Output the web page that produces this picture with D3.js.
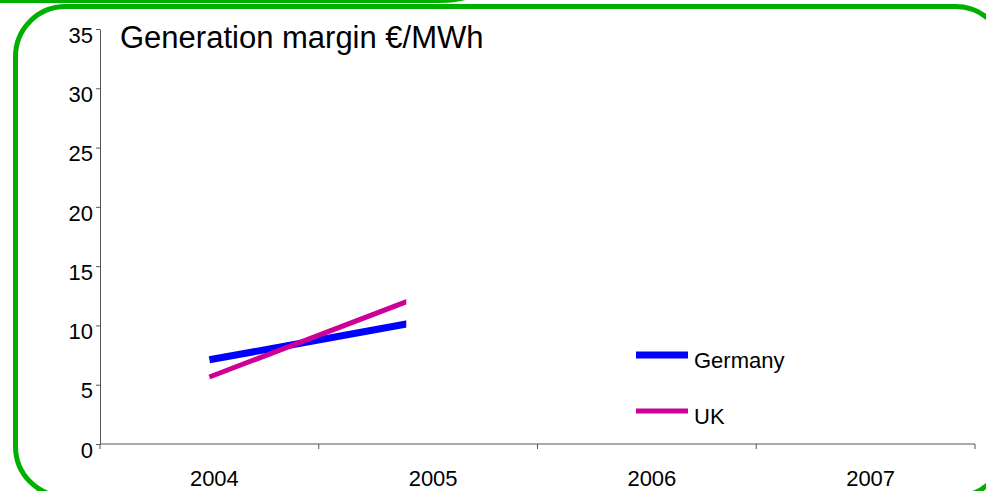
<!DOCTYPE html>
<html>
<head>
<meta charset="utf-8">
<script src="https://cdn.jsdelivr.net/npm/d3@7"></script>
<style>
  body { margin: 0; background: #fff; }
  svg { display: block; font-family: "Liberation Sans", Arial, sans-serif; }
</style>
</head>
<body>
<div id="chart"></div>
<script>
"use strict";

// Chart data
const years = ["2004", "2005", "2006", "2007"];
const germany = [7.1, 10.45];
const uk = [5.65, 12.7];
const yTicks = [0, 5, 10, 15, 20, 25, 30, 35];
const seriesNames = ["Germany", "UK"];
const seriesColors = ["#0000ff", "#cc0099"];

const width = 986, height = 491;
const margin = { top: 29, right: 11, bottom: 47, left: 100 };
const fontFamily = "Liberation Sans, Arial, sans-serif";

const svg = d3.select("#chart").append("svg")
    .attr("width", width)
    .attr("height", height);

// Green frames from the slide behind the chart
svg.append("path")
    .attr("d", "M -10 1 L 440 1 Q 470 1 485 -12")
    .attr("fill", "none")
    .attr("stroke", "#00b000")
    .attr("stroke-width", 4);

svg.append("rect")
    .attr("x", 15.5)
    .attr("y", 6.5)
    .attr("width", 990)
    .attr("height", 490)
    .attr("rx", 50)
    .attr("ry", 50)
    .attr("fill", "none")
    .attr("stroke", "#00b000")
    .attr("stroke-width", 5);

const xScale = d3.scaleBand()
    .domain(years)
    .range([margin.left, width - margin.right]);

const yScale = d3.scaleLinear()
    .domain([0, 35])
    .range([height - margin.bottom, margin.top]);

// Y axis
svg.append("g")
    .attr("transform", `translate(${margin.left},0)`)
    .call(d3.axisLeft(yScale).tickValues(yTicks).tickSize(4).tickSizeOuter(0))
    .call(g => g.select(".domain").attr("stroke", "#555"))
    .call(g => g.selectAll(".tick line").attr("stroke", "#555"))
    .call(g => g.selectAll(".tick text")
        .attr("font-size", 22)
        .attr("font-family", fontFamily)
        .attr("fill", "#000")
        .attr("x", -7)
        .attr("dy", "0.6em"));

// X axis: ticks between the categories
const xAxisY = yScale(0);
const xAxis = svg.append("g")
    .attr("transform", `translate(0,${xAxisY})`);

xAxis.append("line")
    .attr("x1", margin.left)
    .attr("x2", width - margin.right)
    .attr("stroke", "#555");

const boundaries = years.map(d => xScale(d)).concat([xScale(years[years.length - 1]) + xScale.bandwidth()]);
xAxis.selectAll(".xtick")
    .data(boundaries)
    .join("line")
    .attr("class", "xtick")
    .attr("x1", d => d)
    .attr("x2", d => d)
    .attr("y1", 0)
    .attr("y2", 5)
    .attr("stroke", "#555");

xAxis.selectAll(".xlabel")
    .data(years)
    .join("text")
    .attr("class", "xlabel")
    .attr("x", d => xScale(d) + xScale.bandwidth() / 2 + 5)
    .attr("y", 42)
    .attr("text-anchor", "middle")
    .attr("font-size", 22)
    .attr("fill", "#000")
    .text(d => d);

// Lines stop a little short of the 2005 point, as in the original
svg.append("clipPath")
    .attr("id", "plotClip")
    .append("rect")
    .attr("x", margin.left)
    .attr("y", 0)
    .attr("width", xScale("2005") + xScale.bandwidth() * 0.4 - margin.left)
    .attr("height", height);

const line = d3.line()
    .x((d, i) => xScale(years[i]) + xScale.bandwidth() / 2)
    .y(d => yScale(d));

svg.append("path")
    .datum(germany)
    .attr("clip-path", "url(#plotClip)")
    .attr("fill", "none")
    .attr("stroke", seriesColors[0])
    .attr("stroke-width", 7)
    .attr("d", line);

svg.append("path")
    .datum(uk)
    .attr("clip-path", "url(#plotClip)")
    .attr("fill", "none")
    .attr("stroke", seriesColors[1])
    .attr("stroke-width", 5)
    .attr("d", line);

// Legend
const legend = svg.append("g")
    .attr("transform", "translate(636,355)");

const item = legend.selectAll("g")
    .data(seriesNames)
    .join("g")
    .attr("transform", (d, i) => `translate(0,${i * 56})`);

item.append("line")
    .attr("x1", 0)
    .attr("x2", 52)
    .attr("stroke", (d, i) => seriesColors[i])
    .attr("stroke-width", (d, i) => i === 0 ? 7 : 5);

item.append("text")
    .attr("x", 58)
    .attr("y", 13)
    .attr("font-size", 22)
    .attr("fill", "#000")
    .text(d => d);

// Title
svg.append("text")
    .attr("x", 120)
    .attr("y", 48)
    .attr("font-size", 31)
    .attr("fill", "#000")
    .text("Generation margin €/MWh");
</script>
</body>
</html>
